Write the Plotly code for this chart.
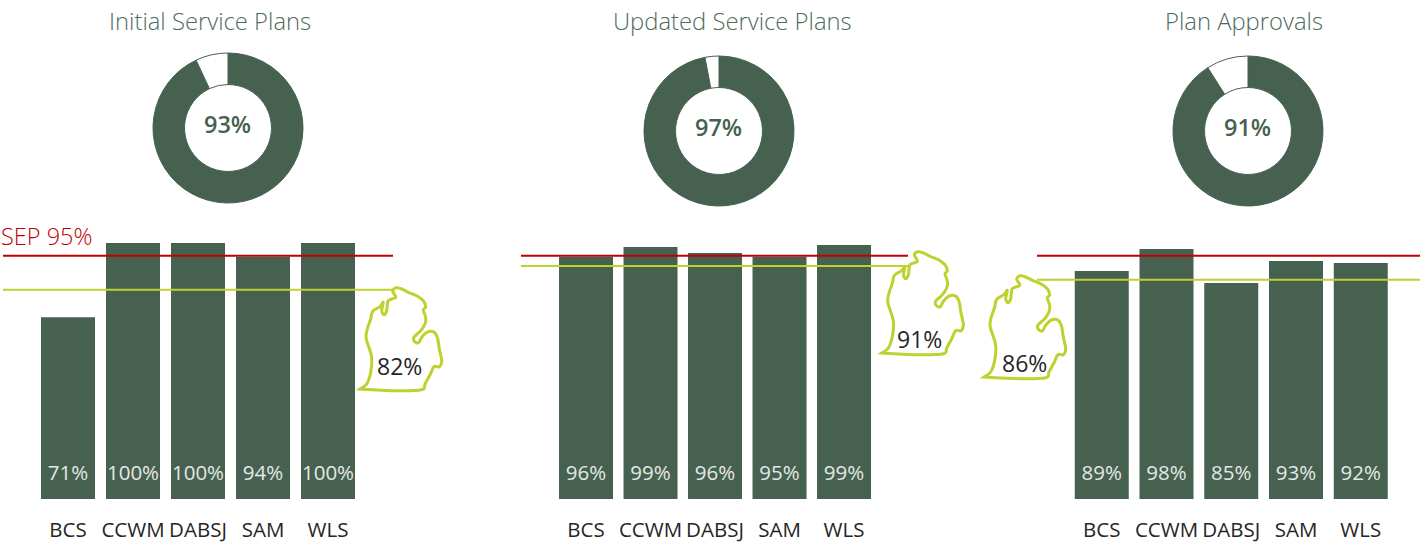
import plotly.graph_objects as go

W, H = 1420, 542
GREEN = "#466150"
RED = "#C00000"
LIME = "#BFD12F"
TITLE = "#4F6B5C"
FONT = "Open Sans"

categories = ["BCS", "CCWM", "DABSJ", "SAM", "WLS"]
titles = ["Initial Service Plans", "Updated Service Plans", "Plan Approvals"]
overall = [93, 97, 91]
state = [82, 91, 86]
state_lines = [81.7, 91, 85.6]
target = 95
labels_1 = [71, 100, 100, 94, 100]
labels_2 = [96, 99, 96, 95, 99]
labels_3 = [89, 98, 85, 93, 92]
heights_1 = [71, 100, 100, 94.6, 100]
heights_2 = [94.6, 98.4, 96.1, 94.6, 99.2]
heights_3 = [89.1, 97.7, 84.4, 93, 92.2]

# Michigan outline, relative to its bottom-left tip, in pixels
mich_x = [0, 6.7, 10.7, 11.7, 8.3, 6, 7.3, 10.7, 12.7, 20, 23.3, 21.7, 24, 26.7, 28.3, 35.7, 32.7, 36,
          41.7, 48.3, 56.7, 63.3, 65.7, 63.3, 65.7, 65, 60.7, 54.3, 54, 58.3, 61.7, 66.7, 73.3, 77.3,
          79.3, 81.7, 79.3, 74, 70, 65, 61.7, 36.7, 0]
mich_y = [0, -5, -16.7, -31.7, -43.3, -51.7, -60, -70, -77.7, -82.3, -86.7, -78.3, -74.3, -78.3, -88.3,
          -91.7, -97.7, -101.3, -100, -96.7, -93.3, -88.3, -82.3, -79, -71.7, -65, -58.3, -52.3, -48.3,
          -46, -51.7, -56.7, -57.3, -51.7, -40, -28.3, -22.3, -22.3, -14.3, -5, 0.7, 1.7, 0]


def px(x):
    return x / W


def py(y):
    return 1 - y / H


def label(text, x, y, size, color, anchor="center", weight=None):
    font = dict(family=FONT, size=size, color=color)
    if weight:
        font["weight"] = weight
    return dict(text=text.replace(" ", "\u00a0"), x=px(x), y=py(y), xref="paper", yref="paper",
                xanchor=anchor, yanchor="middle", showarrow=False, font=font)


def smooth_path(ox, oy):
    """Catmull-Rom outline, sharp at the bottom-left tip, as an SVG path in paper coordinates."""
    pts = [(ox + a, oy + b) for a, b in zip(mich_x, mich_y)]
    n = len(pts)
    fmt = lambda q: f"{px(q[0]):.5f},{py(q[1]):.5f}"
    d = "M" + fmt(pts[0])
    for k in range(n - 1):
        p0, p1, p2, p3 = pts[max(k - 1, 0)], pts[k], pts[k + 1], pts[min(k + 2, n - 1)]
        c1 = (p1[0] + (p2[0] - p0[0]) / 6, p1[1] + (p2[1] - p0[1]) / 6)
        c2 = (p2[0] - (p3[0] - p1[0]) / 6, p2[1] - (p3[1] - p1[1]) / 6)
        d += " C" + fmt(c1) + " " + fmt(c2) + " " + fmt(p2)
    return d + " Z"


panels = [
    dict(vals=heights_1, labs=labels_1, dom=(3, 393), rng=(-1, 5), unit=65,
         donut=(228, 128), mich=(360, 389), mtext=(399, 365.5), title=210),
    dict(vals=heights_2, labs=labels_2, dom=(521, 908), rng=(-1.008, 4.992), unit=64.5,
         donut=(719, 131), mich=(881.7, 353), mtext=(919, 338.5), title=732),
    dict(vals=heights_3, labs=labels_3, dom=(1037, 1420), rng=(-1, 4.915), unit=64.75,
         donut=(1248, 131), mich=(984, 377), mtext=(1024, 362.5), title=1244),
]

fig = go.Figure()
shapes, annotations = [], []
layout_axes = {}
R = 75
for i, p in enumerate(panels):
    n = "" if i == 0 else str(i + 1)
    xa, ya = "x" + n, "y" + n
    fig.add_trace(go.Bar(x=categories, y=p["vals"], xaxis=xa, yaxis=ya, width=54 / p["unit"],
                         marker=dict(color=GREEN, line=dict(width=0)), hoverinfo="skip", showlegend=False))
    fig.add_trace(go.Scatter(x=categories, y=[9.5] * 5, xaxis=xa, yaxis=ya, mode="text",
                             text=[f"{v}%" for v in p["labs"]], cliponaxis=False,
                             textfont=dict(family=FONT, size=20.5, color="#E4E8E5"),
                             textposition="middle center", hoverinfo="skip", showlegend=False))
    layout_axes["xaxis" + n] = dict(domain=[px(p["dom"][0]), px(p["dom"][1])], range=list(p["rng"]),
                                    type="category", categoryorder="array", categoryarray=categories,
                                    showgrid=False, zeroline=False, showline=False, anchor=ya,
                                    automargin=False, ticks="outside", ticklen=12, tickcolor="rgba(0,0,0,0)",
                                    tickfont=dict(family=FONT, size=20.5, color="#262626"))
    layout_axes["yaxis" + n] = dict(domain=[py(499), py(243)], range=[0, 100], visible=False, anchor=xa,
                                    automargin=False)
    for val, col, lw in ((target, RED, 2), (state_lines[i], LIME, 2)):
        shapes.append(dict(type="line", xref=xa + " domain", x0=0, x1=1, yref=ya, y0=val, y1=val,
                           line=dict(color=col, width=lw), layer="above"))
    cx, cy = p["donut"]
    fig.add_trace(go.Pie(values=[overall[i], 100 - overall[i]], hole=0.58, sort=False, direction="clockwise",
                         rotation=0, textinfo="none", hoverinfo="skip", showlegend=False,
                         marker=dict(colors=[GREEN, "#FFFFFF"], line=dict(color=GREEN, width=1)),
                         domain=dict(x=[px(cx - R), px(cx + R)], y=[py(cy + R), py(cy - R)])))
    annotations.append(label(f"{overall[i]}%", cx - 1, cy - 3.5, 23.5, GREEN, weight=600))
    annotations.append(label(titles[i], p["title"], 21, 23.8, TITLE, weight=300))
    annotations.append(label(f"{state[i]}%", p["mtext"][0], p["mtext"][1], 23, "#262626"))
    ox, oy = p["mich"]
    shapes.append(dict(type="path", path=smooth_path(ox, oy), xref="paper", yref="paper",
                       line=dict(color=LIME, width=3), layer="above"))

annotations.append(label(f"SEP {target}%", -1, 236, 23.5, RED, anchor="left", weight=300))

fig.update_layout(width=W, height=H, margin=dict(l=0, r=0, t=0, b=0), paper_bgcolor="white",
                  plot_bgcolor="rgba(0,0,0,0)", shapes=shapes, annotations=annotations,
                  showlegend=False, **layout_axes)
fig.write_html("out.html", post_script="document.body.style.margin='0';document.body.style.overflow='hidden';",
               config=dict(displayModeBar=False))
